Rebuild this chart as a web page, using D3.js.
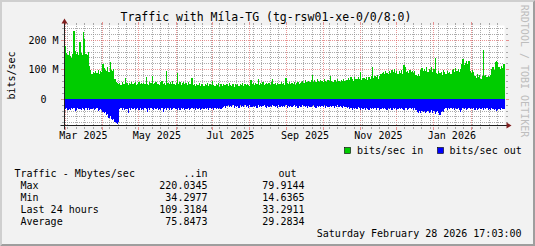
<!DOCTYPE html>
<html>
<head>
<meta charset="utf-8">
<script src="https://cdn.jsdelivr.net/npm/d3@7"></script>
<style>
  body { margin: 0; background: #f2f2f2; }
  svg text { font-family: "DejaVu Sans Mono", monospace; white-space: pre; fill: #000; }
</style>
</head>
<body>
<svg id="chart" width="535" height="246"></svg>
<script>
// Daily traffic, Mbit/s, one value per day from Feb 28 2025 to Feb 28 2026
const inValues = [
  180,158,150,162,145,140,152,230,165,155,160,150,195,158,150,228,205,155,150,160,
  112,100,85,92,88,95,90,98,86,95,92,120,105,100,95,108,92,125,100,95,102,70,60,56,
  52,55,49,58,53,50,71,54,48,56,
  52,57,50,54,60,49,53,58,51,55,
  50,56,53,75,52,49,57,54,78,51,
  55,60,50,53,48,57,62,52,55,49,
  95,54,51,58,50,62,53,49,56,88,
  52,57,48,55,60,51,54,49,58,53,
  50,71,47,53,45,52,49,55,44,50,
  53,46,51,48,56,44,50,47,62,49,
  45,52,48,54,43,50,46,53,49,47,
  51,44,55,48,46,53,42,50,47,52,
  45,51,48,54,44,50,47,53,49,46,65,
  50,54,47,56,52,70,49,55,51,57,
  48,53,56,50,54,47,58,68,52,55,
  49,56,53,51,57,50,54,48,72,55,
  52,58,50,55,53,57,49,56,60,52,55,
  58,62,56,65,60,57,63,59,66,82,
  60,64,57,68,61,58,66,62,59,67,
  63,58,65,61,80,62,57,66,64,60,
  68,62,59,65,63,70,61,66,
  66,72,64,75,68,63,74,70,67,76,
  69,92,65,73,71,68,77,66,74,70,
  78,109,72,80,75,83,70,78,85,
  88,94,85,97,90,86,95,89,98,92,
  102,88,95,84,97,90,99,86,116,110,
  92,96,89,98,91,95,88,97,
  82,78,86,80,
  98,105,96,102,
  95,108,92,104,99,110,94,101,
  140,
  90,85,97,88,94,83,99,91,86,96,89,93,87,
  98,104,92,105,96,101,94,103,
  120,135,115,124,129,118,131,
  95,90,98,92,
  80,72,86,75,83,70,78,166,
  78,82,75,80,77,81,
  104,110,100,125,130,127,
  108,102,112,105,118
];
const outValues = [
  34,30,36,32,38,29,33,31,40,35,30,34,32,37,29,33,36,31,35,30,38,32,34,29,36,33,31,39,35,32,37,
  44,48,42,52,50,
  62,58,68,72,66,
  78,82,85,76,
  33,30,35,29,37,32,34,45,31,36,
  30,33,28,38,34,31,36,29,35,32,
  37,30,34,42,31,35,29,33,36,30,
  34,28,38,32,35,30,44,33,29,36,
  31,35,30,37,33,29,34,32,38,30,
  35,31,33,29,36,32,34,30,37,33,
  29,34,31,36,30,33,28,35,32,30,
  34,29,33,31,37,30,32,28,35,31,
  33,29,34,30,32,28,
  26,22,28,24,20,27,23,25,21,29,
  24,26,22,28,19,25,23,27,21,26,
  23,28,20,25,27,22,26,24,29,21,
  25,22,27,24,20,26,28,23,25,22,
  27,21,24,26,23,28,20,25,22,27,
  24,26,21,28,23,25,22,27,24,20,
  26,23,28,22,25,27,21,24,26,23,
  28,22,25,27,24,21,26,29,23,25,
  22,27,24,26,20,28,23,25,27,22,
  26,24,28,23,25,21,27,24,26,29,
  24,27,25,
  30,27,33,29,35,28,32,30,34,27,
  31,36,29,33,28,35,30,32,37,29,
  33,30,34,28,36,31,29,35,32,30,
  34,29,33,37,30,32,28,35,31,33,
  29,36,32,30,34,28,33,38,31,29,
  35,32,30,34,29,36,31,
  38,42,45,40,47,39,43,41,46,44,
  40,48,42,38,45,41,49,43,39,46,
  52,44,40,42,
  32,29,35,31,34,28,33,30,36,31,
  34,30,38,43,35,31,33,29,36,32,
  30,34,28,33,31,36,29,35,32,30,
  34,31,37,30,33,29,35,32,38,31,
  34,36,33,41,35,32,37,30,34,33
];

const yMajor = [0, 100, 200];
const yMajorLabels = ["0  ", "100 M", "200 M"];
const legendHeader = ["Traffic - Mbytes/sec", "..in", "out"];
const statNames = [" Max", " Min", " Last 24 hours", " Average"];
const statIn = ["220.0345", "34.2977", "109.3184", "75.8473"];
const statOut = ["79.9144", "14.6365", "33.2911", "29.2834"];
const seriesNames = ["bits/sec in", "bits/sec out"];
const seriesColors = ["#00cc00", "#0000ff"];
const title = "Traffic with Míla-TG (tg-rsw01-xe-0/0/8:0)";
const stamp = "Saturday February 28 2026 17:03:00";

const W = 535, H = 246;
const x0 = 64.5, x1 = 504.5, yTop = 25.5, yBot = 125.5;
const gridCol = "rgba(143,143,143,0.75)", mgridCol = "rgba(222,79,79,0.6)";

const endTime = new Date(2026, 1, 28, 17, 3);
const startTime = new Date(+endTime - 365 * 864e5);

const x = d3.scaleTime().domain([startTime, endTime]).range([65, x1]);
const y = d3.scaleLinear().domain([-89, 250]).range([yBot, yTop]);

const svg = d3.select('#chart');

// background with bevel
svg.append('rect').attr('width', W).attr('height', H).attr('fill', '#f2f2f2');
svg.append('polygon').attr('points', `0,${H} 2,${H-2} 2,2 ${W-2},2 ${W},0 0,0`).attr('fill', '#cfcfcf');
svg.append('polygon').attr('points', `2,${H-2} ${W-2},${H-2} ${W-2},2 ${W},0 ${W},${H} 0,${H}`).attr('fill', '#9e9e9e');

// canvas
svg.append('rect').attr('x', x0).attr('y', yTop).attr('width', x1 - x0).attr('height', yBot - yTop).attr('fill', '#fff');

const snap = v => Math.round(v - 0.5) + 0.5;
const grid = svg.append('g').attr('shape-rendering', 'crispEdges');

// vertical grid: weeks (minor) and months (major)
const months = d3.timeMonth.range(startTime, endTime);
const monthKeys = new Set(months.map(d => +d));
d3.timeMonday.range(startTime, endTime).filter(d => !monthKeys.has(+d)).forEach(d => {
  const px = snap(x(d));
  grid.append('line').attr('x1', px).attr('x2', px).attr('y1', yTop).attr('y2', yBot)
    .attr('stroke', gridCol).attr('stroke-dasharray', '1,1');
  grid.append('line').attr('x1', px).attr('x2', px).attr('y1', yBot + 1).attr('y2', yBot + 3).attr('stroke', gridCol);
  grid.append('line').attr('x1', px).attr('x2', px).attr('y1', yTop - 3).attr('y2', yTop - 1).attr('stroke', gridCol);
});
months.forEach(d => {
  const px = snap(x(d));
  grid.append('line').attr('x1', px).attr('x2', px).attr('y1', yTop).attr('y2', yBot)
    .attr('stroke', mgridCol).attr('stroke-dasharray', '1,1');
  grid.append('line').attr('x1', px).attr('x2', px).attr('y1', yBot + 1).attr('y2', yBot + 4).attr('stroke', mgridCol);
  grid.append('line').attr('x1', px).attr('x2', px).attr('y1', yTop - 4).attr('y2', yTop - 1).attr('stroke', mgridCol);
});

// horizontal grid
d3.range(-80, 250, 20).filter(v => v % 100 !== 0).forEach(v => {
  const py = snap(y(v));
  grid.append('line').attr('x1', x0).attr('x2', x1).attr('y1', py).attr('y2', py)
    .attr('stroke', gridCol).attr('stroke-dasharray', '1,1');
  grid.append('line').attr('x1', x0 - 3).attr('x2', x0 - 1).attr('y1', py).attr('y2', py).attr('stroke', gridCol);
  grid.append('line').attr('x1', x1 + 1).attr('x2', x1 + 3).attr('y1', py).attr('y2', py).attr('stroke', gridCol);
});
yMajor.forEach(v => {
  const py = snap(y(v));
  grid.append('line').attr('x1', x0).attr('x2', x1).attr('y1', py).attr('y2', py)
    .attr('stroke', mgridCol).attr('stroke-dasharray', '1,1');
  grid.append('line').attr('x1', x0 - 4).attr('x2', x0 - 1).attr('y1', py).attr('y2', py).attr('stroke', mgridCol);
  grid.append('line').attr('x1', x1 + 1).attr('x2', x1 + 4).attr('y1', py).attr('y2', py).attr('stroke', mgridCol);
});

// data areas
const days = inValues.map((v, i) => ({ t: new Date(+startTime + i * 864e5), vin: v, vout: outValues[i] }));
days.push({ t: endTime, vin: inValues[inValues.length - 1], vout: outValues[outValues.length - 1] });

svg.append('path').datum(days)
  .attr('fill', seriesColors[0]).attr('shape-rendering', 'crispEdges')
  .attr('d', d3.area().curve(d3.curveStepAfter).x(d => x(d.t)).y0(y(0)).y1(d => y(d.vin)));
svg.append('path').datum(days)
  .attr('fill', seriesColors[1]).attr('shape-rendering', 'crispEdges')
  .attr('d', d3.area().curve(d3.curveStepAfter).x(d => x(d.t)).y0(y(0)).y1(d => y(-d.vout)));

// axes + arrows
svg.append('line').attr('x1', x0 - 4).attr('x2', x1 + 4).attr('y1', yBot).attr('y2', yBot).attr('stroke', '#1f1f1f');
svg.append('line').attr('x1', x0).attr('x2', x0).attr('y1', yBot + 4).attr('y2', yTop - 4).attr('stroke', '#1f1f1f');
svg.append('polygon').attr('points', `${x1 + 2},${yBot - 3} ${x1 + 2},${yBot + 3} ${x1 + 7},${yBot}`).attr('fill', '#801f1f');
svg.append('polygon').attr('points', `${x0 - 3},${yTop - 2} ${x0 + 3},${yTop - 2} ${x0},${yTop - 7}`).attr('fill', '#801f1f');

// x labels: every 2nd month, centred half a month after the month start
months.filter(d => d.getMonth() % 2 === 0).forEach(d => {
  svg.append('text').attr('x', x(d3.timeDay.offset(d, 15))).attr('y', 138.5)
    .attr('text-anchor', 'middle').attr('font-size', 10)
    .text(d3.timeFormat('%b %Y')(d));
});

// y labels
yMajor.forEach((v, i) => {
  svg.append('text').attr('x', 58.5).attr('y', y(v) + 3.7)
    .attr('text-anchor', 'end').attr('font-size', 10).text(yMajorLabels[i]);
});
svg.append('text').attr('transform', 'translate(15,75.5) rotate(-90)')
  .attr('text-anchor', 'middle').attr('font-size', 10).text('bits/sec');

// title
svg.append('text').attr('x', 266).attr('y', 20.5).attr('text-anchor', 'middle')
  .attr('font-size', 11.5).text(title);

// watermark
svg.append('text').attr('transform', 'translate(521,71) rotate(90)')
  .attr('text-anchor', 'middle').attr('font-size', 10).style('fill', '#bdbdbd')
  .text('RRDTOOL / TOBI OETIKER');

// legend boxes
const legX = [344, 437], legTextX = [357, 449.5];
seriesNames.forEach((name, i) => {
  svg.append('rect').attr('x', legX[i] + 0.5).attr('y', 147.5).attr('width', 6).attr('height', 6)
    .attr('fill', seriesColors[i]).attr('stroke', '#000').attr('stroke-width', 0.6);
  svg.append('text').attr('x', legTextX[i]).attr('y', 153.7).attr('font-size', 10).text(name);
});

// stats table
svg.append('text').attr('x', 14.5).attr('y', 177).attr('font-size', 10).text(legendHeader[0]);
svg.append('text').attr('x', 207.5).attr('y', 177).attr('font-size', 10).attr('text-anchor', 'end').text(legendHeader[1]);
svg.append('text').attr('x', 278.5).attr('y', 177).attr('font-size', 10).text(legendHeader[2]);
statNames.forEach((n, i) => {
  const by = 189 + i * 12;
  svg.append('text').attr('x', 14.5).attr('y', by).attr('font-size', 10).text(n);
  svg.append('text').attr('x', 207.5).attr('y', by).attr('font-size', 10).attr('text-anchor', 'end').text(statIn[i]);
  svg.append('text').attr('x', 304.5).attr('y', by).attr('font-size', 10).attr('text-anchor', 'end').text(statOut[i]);
});

svg.append('text').attr('x', 521.5).attr('y', 236.5).attr('text-anchor', 'end')
  .attr('font-size', 10).text(stamp);
</script>
</body>
</html>
